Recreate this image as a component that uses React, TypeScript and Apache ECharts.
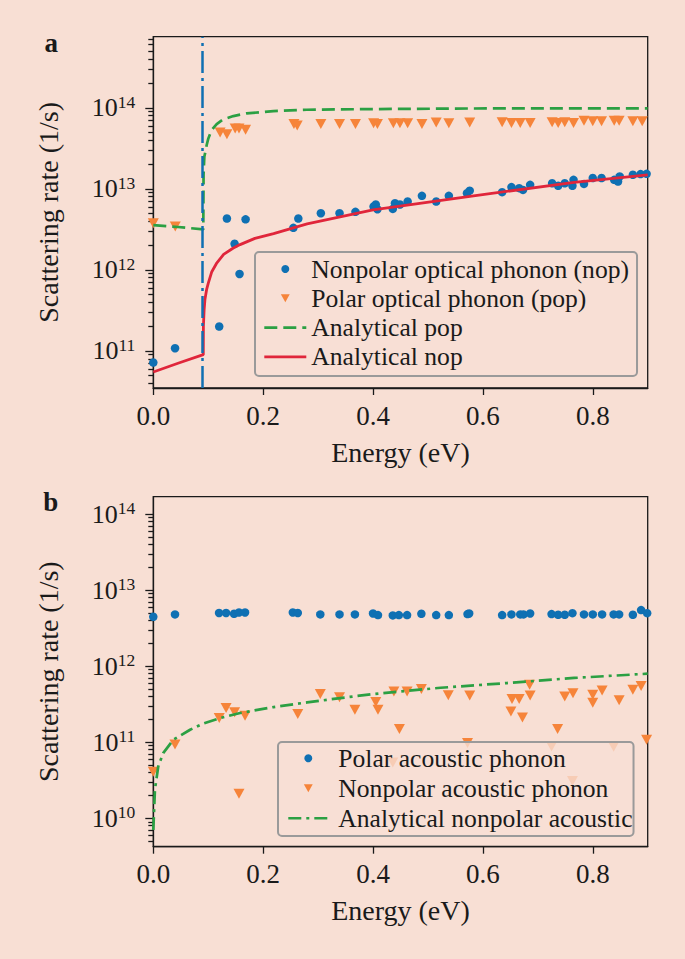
import React, { useEffect, useRef } from "react";
import * as echarts from "echarts";

// ---------- styling ----------
const BG = "#f8dfd4";
const INK = "#1a1a1a";
const FONT = '"Liberation Serif", "Times New Roman", serif';
const BLUE = "#0f70b3";
const ORANGE = "#f6843a";
const GREEN = "#2ba043";
const RED = "#e0263b";
const TRI_DOWN = "path://M0,0L10,0L5,9Z";
const HIDDEN = "rgba(0,0,0,0)";

// ---------- axes ----------
const xTicks = [0, 0.2, 0.4, 0.6, 0.8];
const topDecades = [1e11, 1e12, 1e13, 1e14];
const bottomDecades = [1e10, 1e11, 1e12, 1e13, 1e14];
const minorMultipliers = [2, 3, 4, 5, 6, 7, 8, 9];
const topYMin = 3.49e10;
const topYMax = 7.53e14;
const bottomYMin = 4.23e9;
const bottomYMax = 1.69e14;
const phononEnergy = 0.091; // vertical dash-dot marker in panel a

// ---------- panel a : optical phonons ----------
const nopEnergy = [0, 0.0396, 0.12, 0.134, 0.148, 0.157, 0.168, 0.255, 0.264, 0.305, 0.339, 0.368, 0.401, 0.405, 0.408, 0.436, 0.44, 0.449, 0.463, 0.489, 0.515, 0.538, 0.571, 0.576, 0.635, 0.652, 0.666, 0.673, 0.686, 0.726, 0.737, 0.749, 0.763, 0.765, 0.784, 0.8, 0.816, 0.839, 0.846, 0.849, 0.873, 0.887, 0.898];
const nopRate = [7.2e10, 1.08e11, 2.0e11, 4.3e12, 2.1e12, 8.9e11, 4.2e12, 3.3e12, 4.3e12, 5.0e12, 5.0e12, 5.2e12, 6.05e12, 6.4e12, 5.6e12, 5.65e12, 6.65e12, 6.4e12, 6.97e12, 8.2e12, 6.97e12, 8.2e12, 8.85e12, 9.5e12, 9.1e12, 1.05e13, 1.02e13, 9.7e12, 1.12e13, 1.17e13, 1.09e13, 1.17e13, 1.09e13, 1.29e13, 1.15e13, 1.36e13, 1.36e13, 1.29e13, 1.23e13, 1.42e13, 1.49e13, 1.52e13, 1.53e13];

const popEnergy = [0, 0.04, 0.1216, 0.134, 0.149, 0.156, 0.168, 0.256, 0.262, 0.305, 0.339, 0.368, 0.401, 0.408, 0.437, 0.449, 0.463, 0.489, 0.515, 0.538, 0.576, 0.635, 0.652, 0.668, 0.686, 0.726, 0.737, 0.749, 0.765, 0.784, 0.8, 0.816, 0.839, 0.848, 0.873, 0.89];
const popRate = [3.77e12, 3.43e12, 4.95e13, 4.73e13, 5.56e13, 5.56e13, 5.35e13, 6.29e13, 6.05e13, 6.3e13, 6.3e13, 6.3e13, 6.42e13, 6.3e13, 6.42e13, 6.42e13, 6.42e13, 6.3e13, 6.6e13, 6.42e13, 6.6e13, 6.65e13, 6.5e13, 6.5e13, 6.5e13, 6.65e13, 6.5e13, 6.65e13, 6.5e13, 6.9e13, 6.8e13, 6.8e13, 6.9e13, 6.9e13, 6.8e13, 6.8e13];

const anaPopEnergy = [0, 0.045, 0.091, 0.0915, 0.0929, 0.0972, 0.1002, 0.1063, 0.1154, 0.1274, 0.1457, 0.17, 0.2185, 0.279, 0.4005, 0.5826, 0.9];
const anaPopRate = [3.56e12, 3.38e12, 3.16e12, 1.5e13, 2.48e13, 3.47e13, 4.19e13, 5.31e13, 6.29e13, 7.2e13, 7.9e13, 8.53e13, 9.1e13, 9.45e13, 9.64e13, 9.8e13, 9.85e13];

const anaNopEnergy = [0, 0.045, 0.091, 0.0912, 0.0925, 0.094, 0.097, 0.1, 0.1065, 0.115, 0.128, 0.145, 0.158, 0.185, 0.219, 0.28, 0.4, 0.583, 0.766, 0.9];
const anaNopRate = [5.5e10, 7.05e10, 9.0e10, 2.0e11, 3.2e11, 4.3e11, 5.7e11, 6.8e11, 9.5e11, 1.2e12, 1.55e12, 1.85e12, 2.05e12, 2.45e12, 2.8e12, 3.7e12, 5.5e12, 8.2e12, 1.2e13, 1.49e13];

// ---------- panel b : acoustic phonons ----------
const papEnergy = [0, 0.0395, 0.1197, 0.1325, 0.147, 0.156, 0.167, 0.254, 0.263, 0.304, 0.339, 0.367, 0.4, 0.409, 0.436, 0.447, 0.462, 0.488, 0.515, 0.538, 0.572, 0.575, 0.635, 0.652, 0.668, 0.674, 0.686, 0.725, 0.737, 0.749, 0.763, 0.784, 0.8, 0.817, 0.838, 0.848, 0.873, 0.888, 0.899];
const papRate = [4.46e12, 4.79e12, 5.0e12, 5.0e12, 4.88e12, 5.08e12, 5.08e12, 5.08e12, 5.0e12, 4.79e12, 4.79e12, 4.79e12, 4.93e12, 4.69e12, 4.65e12, 4.69e12, 4.69e12, 4.88e12, 4.69e12, 4.69e12, 4.84e12, 4.93e12, 4.69e12, 4.79e12, 4.79e12, 4.79e12, 4.93e12, 4.84e12, 4.74e12, 4.74e12, 4.97e12, 4.79e12, 4.79e12, 4.79e12, 4.79e12, 4.79e12, 4.74e12, 5.46e12, 4.97e12];

const napEnergy = [0, 0.0395, 0.12, 0.1325, 0.148, 0.156, 0.167, 0.263, 0.304, 0.339, 0.367, 0.405, 0.409, 0.436, 0.438, 0.448, 0.462, 0.488, 0.537, 0.572, 0.576, 0.651, 0.653, 0.666, 0.672, 0.685, 0.686, 0.725, 0.736, 0.749, 0.763, 0.764, 0.8, 0.8, 0.817, 0.838, 0.848, 0.873, 0.888, 0.898];
const napRate = [4.1e10, 9.3e10, 2.08e11, 2.82e11, 2.47e11, 2.1e10, 2.23e11, 2.35e11, 4.3e11, 3.9e11, 2.68e11, 3.38e11, 2.68e11, 5.4e10, 4.66e11, 1.49e11, 4.66e11, 5.0e11, 4.13e11, 9.8e10, 4.1e11, 2.54e11, 3.7e11, 3.7e11, 2.12e11, 5.7e11, 4.1e11, 8.8e10, 1.49e11, 4.0e11, 3.1e10, 4.4e11, 4.2e11, 3.3e11, 4.8e11, 8.7e10, 3.55e11, 4.9e11, 5.5e11, 1.08e11];

const anaNapEnergy = [0, 0.003, 0.009, 0.018, 0.0365, 0.067, 0.09, 0.1216, 0.158, 0.219, 0.28, 0.34, 0.4, 0.523, 0.644, 0.766, 0.9];
const anaNapRate = [7e9, 2.4e10, 4.8e10, 7.2e10, 1.08e11, 1.46e11, 1.75e11, 2.08e11, 2.42e11, 2.9e11, 3.34e11, 3.8e11, 4.3e11, 5.2e11, 6.0e11, 7.0e11, 7.96e11];

const pairs = (xs: number[], ys: number[]) => xs.map((x, i) => [x, ys[i]]);

const minorValues = (min: number, max: number) => {
  const out: number[] = [];
  for (let k = Math.floor(Math.log10(min)); k <= Math.ceil(Math.log10(max)); k++) {
    for (const m of minorMultipliers) {
      const v = m * Math.pow(10, k);
      if (v >= min && v <= max) out.push(v);
    }
  }
  return out;
};

const lineLegendItem = (name: string) => ({
  name,
  itemStyle: { color: HIDDEN, borderColor: HIDDEN, borderWidth: 0 },
});

export default function App() {
  const ref = useRef<HTMLDivElement>(null);

  useEffect(() => {
    if (!ref.current) return;
    const chart = echarts.init(ref.current, undefined, { renderer: "svg" });

    const axisLine = { show: true, onZero: false, lineStyle: { color: INK, width: 1.3 } };
    const tickLine = { color: INK, width: 1.3 };

    const xAxis = [0, 1].map((g) => ({
      type: "value",
      gridIndex: g,
      min: 0,
      max: 0.9,
      interval: 0.2,
      axisLine,
      axisTick: { show: true, length: 7, customValues: xTicks, lineStyle: tickLine },
      axisLabel: {
        customValues: xTicks,
        margin: 14,
        fontFamily: FONT,
        fontSize: 27,
        lineHeight: 27,
        color: INK,
        formatter: (v: number) => v.toFixed(1),
      },
      splitLine: { show: false },
      name: "Energy (eV)",
      nameLocation: "middle",
      nameGap: 50,
      nameTextStyle: { fontFamily: FONT, fontSize: 28, lineHeight: 28, color: INK },
    }));

    const mainY = (g: number, min: number, max: number, decades: number[]) => ({
      type: "log",
      logBase: 10,
      gridIndex: g,
      position: "left",
      min,
      max,
      axisLine,
      axisTick: { show: true, length: 8, customValues: decades, lineStyle: tickLine },
      axisLabel: {
        customValues: decades,
        margin: 18,
        formatter: (v: number) => `{b|10}{s|${Math.round(Math.log10(v))}}`,
        rich: {
          b: { fontFamily: FONT, fontSize: 26, lineHeight: 30, color: INK },
          s: { fontFamily: FONT, fontSize: 17.5, lineHeight: 17.5, color: INK, verticalAlign: "top" },
        },
      },
      splitLine: { show: false },
      name: "Scattering rate (1/s)",
      nameLocation: "middle",
      nameGap: 91,
      nameRotate: 90,
      nameTextStyle: { fontFamily: FONT, fontSize: 28, lineHeight: 28, color: INK },
    });

    const minorY = (g: number, min: number, max: number) => ({
      type: "log",
      logBase: 10,
      gridIndex: g,
      position: "left",
      min,
      max,
      axisLine: { show: false },
      axisTick: { show: true, length: 5, customValues: minorValues(min, max), lineStyle: tickLine },
      axisLabel: { show: false },
      splitLine: { show: false },
    });

    const legendBase = {
      orient: "vertical",
      selectedMode: false,
      itemHeight: 8,
      borderColor: "#9a9a9a",
      borderWidth: 2,
      borderRadius: 4,
      backgroundColor: "rgba(248,223,212,0.8)",
      lineStyle: { width: 2.6 },
      textStyle: { fontFamily: FONT, fontSize: 25.6, lineHeight: 26, color: INK },
    };

    const option: any = {
      animation: false,
      backgroundColor: BG,
      grid: [
        { left: 153.3, top: 36.7, width: 494.4, height: 351.3, show: true, borderColor: INK, borderWidth: 1.3, backgroundColor: "transparent" },
        { left: 153.3, top: 496.7, width: 494.4, height: 350, show: true, borderColor: INK, borderWidth: 1.3, backgroundColor: "transparent" },
      ],
      xAxis,
      yAxis: [
        mainY(0, topYMin, topYMax, topDecades),
        minorY(0, topYMin, topYMax),
        mainY(1, bottomYMin, bottomYMax, bottomDecades),
        minorY(1, bottomYMin, bottomYMax),
      ],
      legend: [
        {
          ...legendBase,
          left: 255,
          top: 252,
          itemWidth: 42,
          itemGap: 3.3,
          padding: [4, 8, 6, 8],
          data: [
            "Nonpolar optical phonon (nop)",
            "Polar optical phonon (pop)",
            lineLegendItem("Analytical pop"),
            lineLegendItem("Analytical nop"),
          ],
        },
        {
          ...legendBase,
          left: 278,
          top: 742,
          itemWidth: 40,
          itemGap: 4,
          padding: [3.3, 1, 4.7, 9],
          textStyle: { ...legendBase.textStyle, padding: [0, 0, 0, 5] },
          data: [
            "Polar acoustic phonon",
            "Nonpolar acoustic phonon",
            lineLegendItem("Analytical nonpolar acoustic"),
          ],
        },
      ],
      graphic: [
        { type: "text", x: 51.2, y: 42.5, style: { text: "a", fontFamily: FONT, fontWeight: "bold", fontSize: 27, fill: INK, align: "center", verticalAlign: "middle" } },
        { type: "text", x: 50.8, y: 501.7, style: { text: "b", fontFamily: FONT, fontWeight: "bold", fontSize: 27, fill: INK, align: "center", verticalAlign: "middle" } },
      ],
      series: [
        {
          name: "Nonpolar optical phonon (nop)",
          type: "scatter",
          xAxisIndex: 0,
          yAxisIndex: 0,
          symbol: "circle",
          symbolSize: 8.5,
          itemStyle: { color: BLUE, opacity: 1 },
          data: pairs(nopEnergy, nopRate),
        },
        {
          name: "Polar optical phonon (pop)",
          type: "scatter",
          xAxisIndex: 0,
          yAxisIndex: 0,
          symbol: TRI_DOWN,
          symbolSize: [11, 10],
          itemStyle: { color: ORANGE, opacity: 1 },
          data: pairs(popEnergy, popRate),
        },
        {
          name: "Analytical pop",
          type: "line",
          xAxisIndex: 0,
          yAxisIndex: 0,
          symbol: "none",
          lineStyle: { color: GREEN, width: 2.7, type: [13, 6] },
          itemStyle: { color: GREEN },
          data: pairs(anaPopEnergy, anaPopRate),
        },
        {
          name: "Analytical nop",
          type: "line",
          xAxisIndex: 0,
          yAxisIndex: 0,
          symbol: "none",
          lineStyle: { color: RED, width: 2.8 },
          itemStyle: { color: RED },
          data: pairs(anaNopEnergy, anaNopRate),
          markLine: {
            silent: true,
            symbol: "none",
            label: { show: false },
            lineStyle: { color: BLUE, width: 2.5, type: [22, 5, 3, 5] },
            data: [{ xAxis: phononEnergy }],
          },
        },
        {
          name: "Polar acoustic phonon",
          type: "scatter",
          xAxisIndex: 1,
          yAxisIndex: 2,
          symbol: "circle",
          symbolSize: 8.5,
          itemStyle: { color: BLUE, opacity: 1 },
          data: pairs(papEnergy, papRate),
        },
        {
          name: "Nonpolar acoustic phonon",
          type: "scatter",
          xAxisIndex: 1,
          yAxisIndex: 2,
          symbol: TRI_DOWN,
          symbolSize: [11, 10],
          itemStyle: { color: ORANGE, opacity: 1 },
          data: pairs(napEnergy, napRate),
        },
        {
          name: "Analytical nonpolar acoustic",
          type: "line",
          xAxisIndex: 1,
          yAxisIndex: 2,
          symbol: "none",
          lineStyle: { color: GREEN, width: 2.7, type: [13, 5, 3, 5] },
          itemStyle: { color: GREEN },
          data: pairs(anaNapEnergy, anaNapRate),
        },
      ],
    };

    chart.setOption(option);
    return () => chart.dispose();
  }, []);

  return (
    <div
      ref={ref}
      style={{ position: "absolute", left: 0, top: 0, width: 685, height: 959, background: BG }}
    />
  );
}
